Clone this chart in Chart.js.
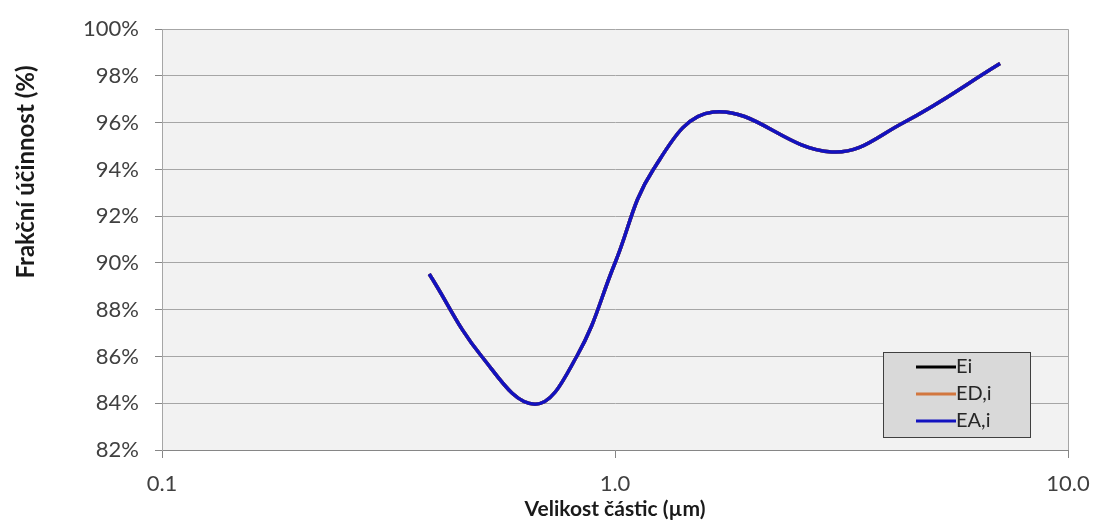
<!DOCTYPE html>
<html>
<head>
<meta charset="utf-8">
<script src="https://cdn.jsdelivr.net/npm/chart.js@4"></script>
<style>
  html, body { margin: 0; padding: 0; background: #fff; }
  #wrap { width: 1094px; height: 523px; }
</style>
</head>
<body>
<div id="wrap"><canvas id="Chart" width="1094" height="523"></canvas></div>
<script>
// particle size (µm) and fractional efficiency (%)
const sizes = [0.389, 0.508, 0.666, 0.823, 1.0, 1.215, 1.648, 3.01, 4.33, 7.08];
const eaI = [89.53, 86.0, 83.96, 86.0, 90.0, 94.0, 96.46, 94.75, 96.0, 98.53];
// the three curves coincide, EA,i is drawn on top
const eI = eaI;
const edI = eaI;
const xTicks = [0.1, 1, 10];
const yTicks = [82, 84, 86, 88, 90, 92, 94, 96, 98, 100];

const FONT = 'Lato, "Open Sans", sans-serif';
const yTitle = 'Frakční účinnost (%)';

function pts(vals) {
  return sizes.map((x, i) => ({ x: x, y: vals[i] }));
}

// gray plot area, right border and the y axis title
const plotBg = {
  id: 'plotBg',
  beforeDraw(chart) {
    const a = chart.chartArea, c = chart.ctx;
    c.save();
    c.fillStyle = '#f2f2f2';
    c.fillRect(a.left, a.top, a.right - a.left, a.bottom - a.top);
    c.restore();
  },
  afterDraw(chart) {
    const a = chart.chartArea, c = chart.ctx;
    c.save();
    c.strokeStyle = '#a6a6a6';
    c.lineWidth = 1;
    c.beginPath();
    c.moveTo(a.right + 0.5, a.top);
    c.lineTo(a.right + 0.5, a.bottom);
    c.stroke();
    c.translate(26, 172);
    c.rotate(-Math.PI / 2);
    c.font = 'bold 24px ' + FONT;
    c.fillStyle = '#1a1a1a';
    c.textAlign = 'center';
    c.textBaseline = 'middle';
    c.fillText(yTitle, 0, 0);
    c.restore();
  }
};

// boxed legend in the lower right corner of the plot
const boxLegend = {
  id: 'boxLegend',
  afterDraw(chart) {
    const a = chart.chartArea, c = chart.ctx;
    const w = 147, h = 85;
    const x = a.right - 38 - w, y = a.bottom - 13 - h;
    c.save();
    c.fillStyle = '#d9d9d9';
    c.fillRect(x, y, w, h);
    c.strokeStyle = '#3f3f3f';
    c.lineWidth = 1;
    c.strokeRect(x + 0.5, y + 0.5, w, h);
    c.font = '20px ' + FONT;
    c.textBaseline = 'middle';
    chart.data.datasets.forEach((ds, i) => {
      const ly = y + 15 + i * 27;
      c.strokeStyle = ds.borderColor;
      c.lineWidth = 3;
      c.beginPath();
      c.moveTo(x + 33, ly);
      c.lineTo(x + 73, ly);
      c.stroke();
      c.fillStyle = '#262626';
      c.fillText(ds.label, x + 73, ly);
    });
    c.restore();
  }
};

new Chart(document.getElementById('Chart'), {
  type: 'line',
  data: {
    datasets: [
      { label: 'Ei', data: pts(eI), borderColor: '#000000', order: 2 },
      { label: 'ED,i', data: pts(edI), borderColor: '#d2773f', order: 1 },
      { label: 'EA,i', data: pts(eaI), borderColor: '#1212c0', order: 0 }
    ]
  },
  options: {
    responsive: false,
    animation: false,
    layout: { padding: { top: 25, right: 26, left: 0, bottom: 0 } },
    elements: {
      line: { borderWidth: 3.5, tension: 0.4, fill: false },
      point: { radius: 0 }
    },
    plugins: {
      legend: { display: false },
      tooltip: { enabled: false }
    },
    scales: {
      x: {
        type: 'logarithmic',
        min: 0.1,
        max: 10,
        afterBuildTicks(scale) {
          scale.ticks = xTicks.map(v => ({ value: v }));
        },
        afterFit(scale) {
          scale.height = 73;
          scale.paddingLeft = 0;
          scale.paddingRight = 0;
        },
        ticks: {
          callback: v => Number(v).toFixed(1),
          font: { family: FONT, size: 22 },
          color: '#404040',
          padding: 13,
          maxRotation: 0,
          autoSkip: false
        },
        grid: { drawOnChartArea: false, drawTicks: true, tickLength: 8, color: '#868686' },
        border: { color: '#868686' },
        title: {
          display: true,
          text: 'Velikost částic (µm)',
          font: { family: FONT, size: 21, weight: 'bold' },
          color: '#1a1a1a',
          padding: { top: 0, bottom: 1 }
        }
      },
      y: {
        min: 82,
        max: 100,
        afterBuildTicks(scale) {
          scale.ticks = yTicks.map(v => ({ value: v }));
        },
        afterFit(scale) { scale.width = 162; },
        ticks: {
          callback: v => v + '%',
          font: { family: FONT, size: 22 },
          color: '#404040',
          padding: 16
        },
        grid: { color: '#a6a6a6', tickLength: 7, tickColor: '#868686' },
        border: { color: '#a6a6a6' }
      }
    }
  },
  plugins: [plotBg, boxLegend]
});
</script>
</body>
</html>
